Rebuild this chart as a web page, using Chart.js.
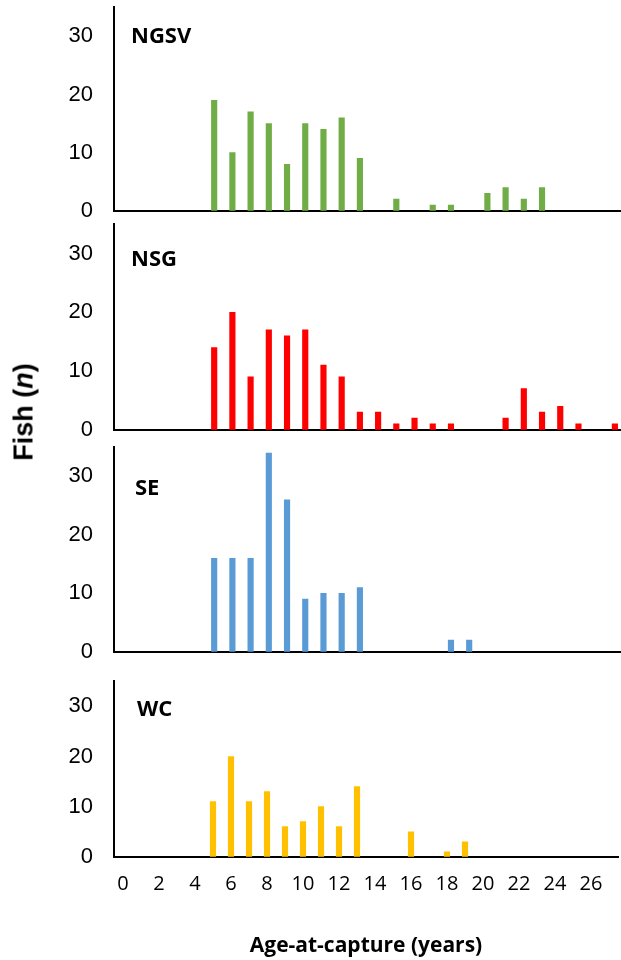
<!DOCTYPE html>
<html>
<head>
<meta charset="utf-8">
<script src="https://cdn.jsdelivr.net/npm/chart.js@4/dist/chart.umd.min.js"></script>
<style>
  html, body { margin: 0; padding: 0; background: #fff; overflow: hidden; }
  #wrap { position: relative; width: 621px; height: 960px; overflow: hidden; background: #fff; }
  #wrap canvas { position: absolute; left: 0; }
  #ytitle {
    position: absolute; left: 24px; top: 412px;
    transform: translate(-50%, -50%) rotate(-90deg);
    font: bold 27px "Liberation Sans", Arial, sans-serif;
    color: #000; white-space: nowrap;
  }
</style>
</head>
<body>
<div id="wrap">
  <canvas id="c0"></canvas>
  <canvas id="c1"></canvas>
  <canvas id="c2"></canvas>
  <canvas id="c3"></canvas>
  <div id="ytitle">Fish (<i>n</i>)</div>
</div>
<script>
// Age classes (years) on the category axis
const ages = ['0','1','2','3','4','5','6','7','8','9','10','11','12','13',
              '14','15','16','17','18','19','20','21','22','23','24','25','26','27'];
// Age labels printed under the bottom panel
const ageTickLabels = ['0','2','4','6','8','10','12','14','16','18','20','22','24','26'];

// Regions
const regions = ['NGSV', 'NSG', 'SE', 'WC'];

// Number of fish per age class, one list per region
const ngsv = [0,0,0,0,0,19,10,17,15,8,15,14,16,9,0,2,0,1,1,0,3,4,2,4,0,0,0,0];
const nsg  = [0,0,0,0,0,14,20,9,17,16,17,11,9,3,3,1,2,1,1,0,0,2,7,3,4,1,0,1];
const se   = [0,0,0,0,0,16,16,16,34,26,9,10,10,11,0,0,0,0,2,2,0,0,0,0,0,0,0,0];
const wc   = [0,0,0,0,0,11,20,11,13,6,7,10,6,14,0,0,5,0,1,3,0,0,0,0,0,0,0,0];

// Fish count axis
const countMax = 35;
const countStep = 10;

const series = [ngsv, nsg, se, wc];
const colors = ['#70AD47', '#FF0000', '#5B9BD5', '#FFC000'];

// Page layout: plot band of each panel and where its region name sits
const W = 624;
const bands = [
  { top: 7,   bottom: 211, labelX: 131, labelY: 43 },
  { top: 224, bottom: 430, labelX: 131, labelY: 266 },
  { top: 447, bottom: 652, labelX: 135, labelY: 495 },
  { top: 681, bottom: 857, labelX: 137, labelY: 716 }
];

const regionLabel = {
  id: 'regionLabel',
  afterDraw(chart, args, opts) {
    const ctx = chart.ctx;
    ctx.save();
    ctx.font = 'bold 22px "Open Sans"';
    ctx.fillStyle = '#000';
    ctx.textBaseline = 'alphabetic';
    ctx.textAlign = 'left';
    ctx.fillText(opts.text, opts.x, opts.y - chart.canvas.offsetTop);
    ctx.restore();
  }
};

function config(i, bottomPanel) {
  return {
    type: 'bar',
    data: {
      labels: ages,
      datasets: [{
        data: series[i],
        // empty age classes leave no mark on the axis
        backgroundColor: (c) => (c.raw ? colors[i] : 'rgba(0,0,0,0)'),
        borderWidth: 0,
        barThickness: 5.5
      }]
    },
    options: {
      responsive: false,
      animation: false,
      events: [],
      layout: { padding: 0 },
      plugins: {
        legend: { display: false },
        tooltip: { enabled: false },
        regionLabel: { text: regions[i], x: bands[i].labelX, y: bands[i].labelY }
      },
      scales: {
        x: {
          grid: { display: false, drawTicks: false },
          border: { display: true, color: '#000', width: 2 },
          ticks: {
            display: bottomPanel,
            autoSkip: false,
            maxRotation: 0,
            padding: 15,
            color: '#000',
            font: { family: '"Open Sans"', size: 20 },
            callback: (v, idx) => ageTickLabels.includes(ages[idx]) ? ages[idx] : ''
          },
          title: {
            display: bottomPanel,
            text: 'Age-at-capture (years)',
            color: '#000',
            font: { family: '"Open Sans"', size: 21, weight: 'bold' },
            padding: { top: 23, bottom: 0 }
          }
        },
        y: {
          min: 0,
          max: countMax,
          grid: { display: false, drawTicks: false },
          border: { display: true, color: '#000', width: 2 },
          ticks: {
            stepSize: countStep,
            includeBounds: false,
            padding: 21,
            color: '#000',
            font: { family: '"Liberation Sans", Arial', size: 22 }
          },
          afterFit(scale) { scale.width = 114; }
        }
      }
    },
    plugins: [regionLabel]
  };
}

function build() {
  for (let i = 0; i < 4; i++) {
    const bottomPanel = i === 3;
    const canvas = document.getElementById('c' + i);
    // first pass: find how much room the axes take around the plot area
    canvas.width = W; canvas.height = 300;
    let chart = new Chart(canvas, config(i, bottomPanel));
    const padTop = chart.chartArea.top;
    const padBottom = chart.height - chart.chartArea.bottom;
    chart.destroy();
    // second pass: size the canvas so the plot fills its band
    const b = bands[i];
    const h = Math.round(b.bottom - b.top + padTop + padBottom);
    canvas.width = W; canvas.height = h;
    canvas.style.top = Math.round(b.top - padTop) + 'px';
    chart = new Chart(canvas, config(i, bottomPanel));
  }
}

Promise.all([
  document.fonts.load('bold 22px "Open Sans"'),
  document.fonts.load('20px "Open Sans"'),
  document.fonts.load('bold 21px "Open Sans"'),
  document.fonts.load('22px "Liberation Sans"'),
  document.fonts.load('bold 27px "Liberation Sans"')
]).then(build, build);
</script>
</body>
</html>
